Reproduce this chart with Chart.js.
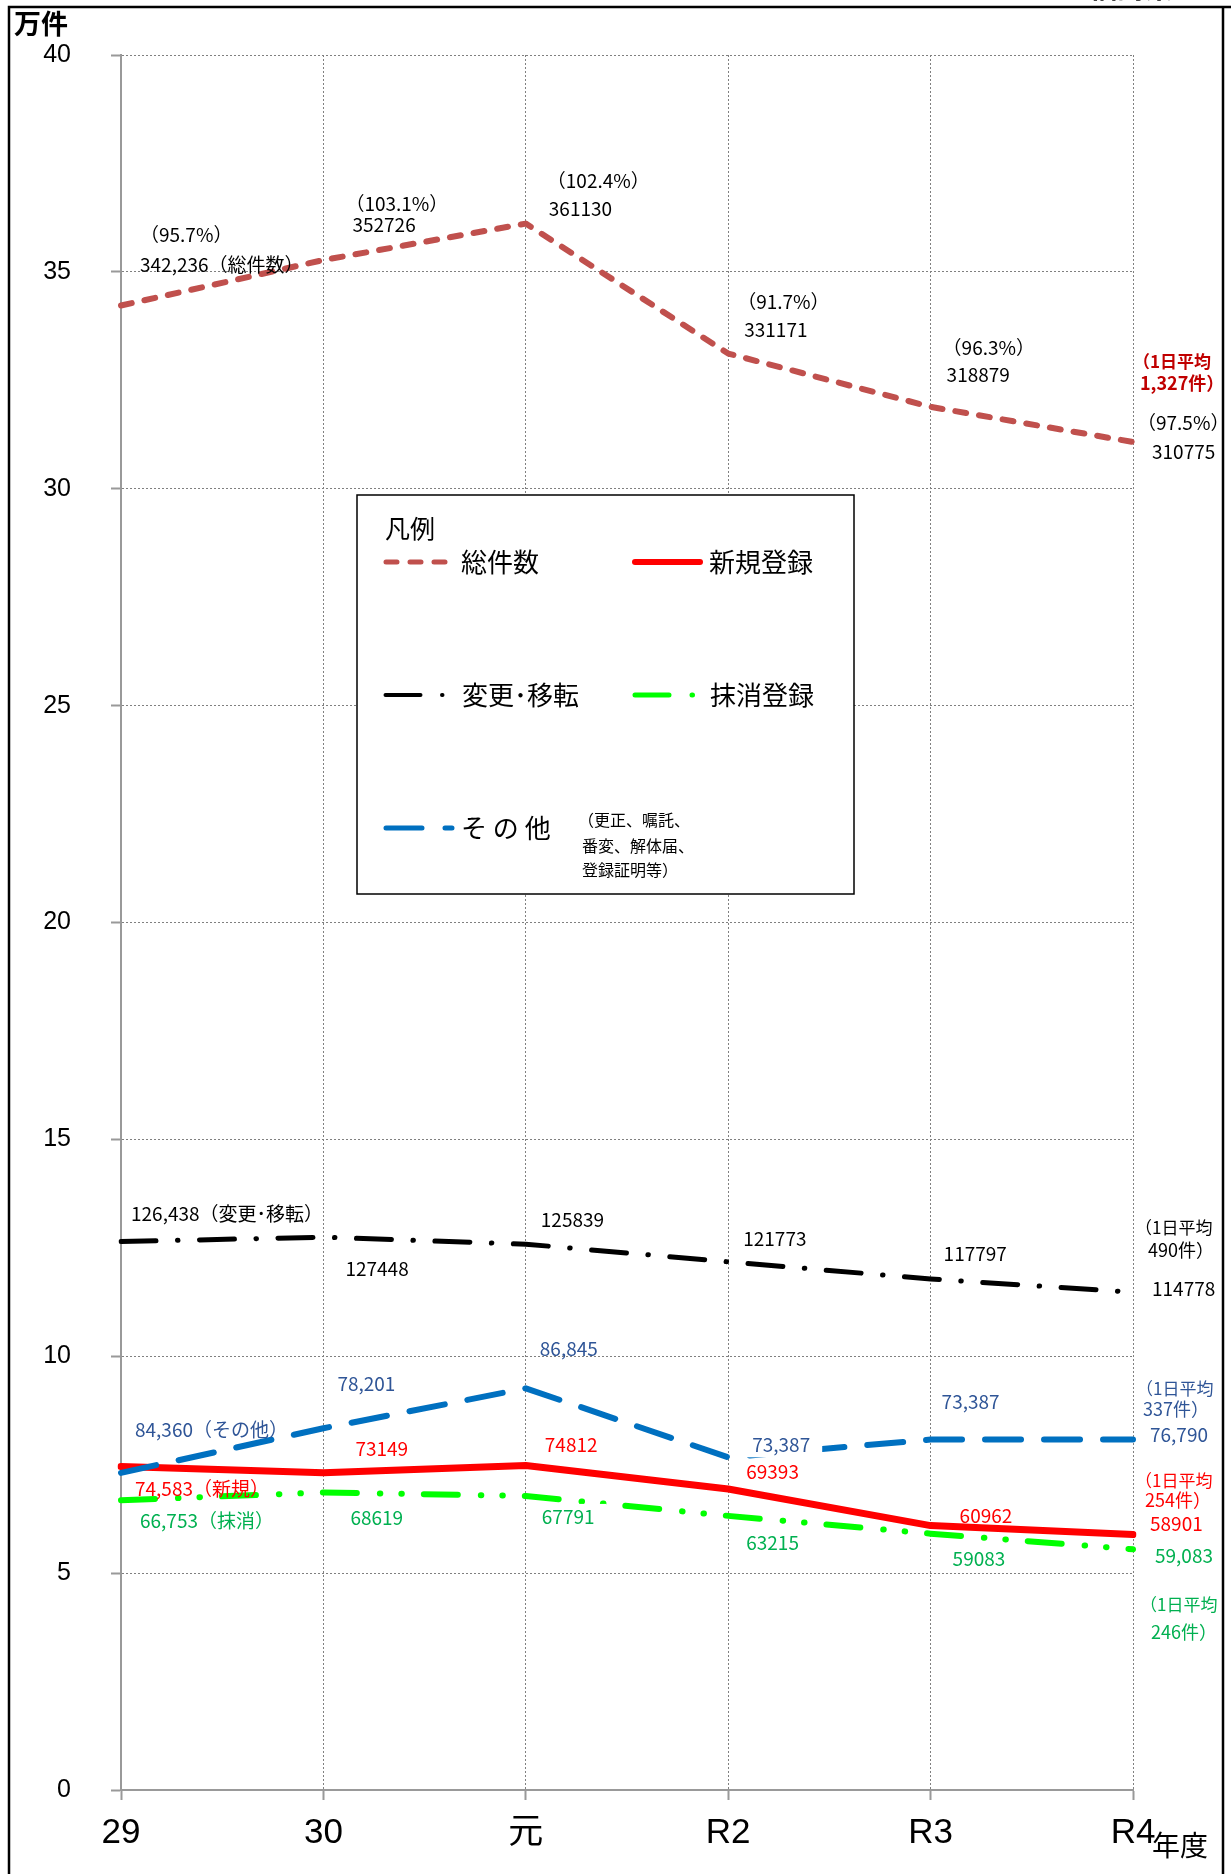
<!DOCTYPE html>
<html lang="ja">
<head>
<meta charset="utf-8">
<script src="https://cdn.jsdelivr.net/npm/chart.js@4.4.1/dist/chart.umd.min.js"></script>
<style>
  html, body { margin: 0; padding: 0; background: #fff; }
  #wrap { position: relative; width: 1231px; height: 1874px; }
</style>
</head>
<body>
<div id="wrap"><canvas id="chart"></canvas></div>
<script>
"use strict";

// 年度と目盛
const years = ["29", "30", "元", "R2", "R3", "R4"];
const yTicks = [0, 5, 10, 15, 20, 25, 30, 35, 40];

// 件数（万件）
const totalCount = [34.2236, 35.2726, 36.1130, 33.1171, 31.8879, 31.0775];
const changeMove = [12.6438, 12.7448, 12.5839, 12.1773, 11.7797, 11.4778];
const otherReg = [7.31, 8.34, 9.26, 7.67, 8.08, 8.08];
const newReg = [7.4583, 7.3149, 7.4812, 6.9393, 6.0962, 5.8901];
const cancelReg = [6.68, 6.86, 6.78, 6.32, 5.91, 5.55];

// ラベル文字
const totalRatio = ["（95.7%）", "（103.1%）", "（102.4%）", "（91.7%）", "（96.3%）", "（97.5%）"];
const totalText = ["342,236（総件数）", "352726", "361130", "331171", "318879", "310775"];
const changeText = ["126,438（変更･移転）", "127448", "125839", "121773", "117797", "114778"];
const otherText = ["84,360（その他）", "78,201", "86,845", "73,387", "73,387", "76,790"];
const newText = ["74,583（新規）", "73149", "74812", "69393", "60962", "58901"];
const cancelText = ["66,753（抹消）", "68619", "67791", "63215", "59083", "59,083"];
// 1日平均（件）: 総件数, 変更･移転, その他, 新規, 抹消
const dailyAvg = ["1,327", "490", "337", "254", "246"];

// ラベル位置（点からのずれ px）
const totalRatioPos = [[19, -71], [22, -56], [21, -43], [9, -52], [12, -59], [4, -19]];
const totalTextPos = [[19, -41], [29, -35], [23, -15], [16, -24], [16, -32], [19, 10]];
const changePos = [[10, -28], [22, 32], [15, -24], [15, -23], [13, -25], [19, -3]];
const otherPos = [[14, -43], [14, -44], [14, -40], [24, -13], [11, -38], [17, -5]];
const newPos = [[14, 22], [32, -24], [19, -21], [18, -17], [29, -10], [17, -11]];
const cancelPos = [[19, 21], [27, 25], [16, 21], [18, 27], [22, 25], [22, 7]];
const dailyPos = [[[0, -80], [7, -59]], [[2, -65], [15, -42]], [[3, -51], [10, -30]], [[2, -54], [12, -34]], [[7, 55], [18, 83]]];

const jp = '"Noto Sans CJK JP", sans-serif';
const num = '"Liberation Sans", "Noto Sans CJK JP", sans-serif';

const annotations = [];
function addLabels(ds, texts, pos, color, bgIdx) {
  texts.forEach((t, i) => {
    annotations.push({ ds, i, text: t, dx: pos[i][0], dy: pos[i][1], color, bg: bgIdx === i, size: 19 });
  });
}
addLabels(0, totalRatio, totalRatioPos, "#000");
addLabels(0, totalText, totalTextPos, "#000");
addLabels(1, changeText, changePos, "#000");
addLabels(2, otherText, otherPos, "#2F5597", 3);
addLabels(3, newText, newPos, "#FF0000");
addLabels(4, cancelText, cancelPos, "#00B050", 2);
const dailyColors = ["#C00000", "#000", "#2F5597", "#FF0000", "#00B050"];
dailyAvg.forEach((d, k) => {
  const p = dailyPos[k];
  annotations.push({ ds: k, i: 5, text: "（1日平均", dx: p[0][0], dy: p[0][1], color: dailyColors[k], bold: k === 0, size: 17 });
  annotations.push({ ds: k, i: 5, text: d + "件）", dx: p[1][0], dy: p[1][1], color: dailyColors[k], bold: k === 0, size: 18 });
});

function sampleLine(ctx, ds, x1, x2, y) {
  ctx.save();
  ctx.strokeStyle = ds.borderColor;
  ctx.lineWidth = ds.borderWidth - 1;
  ctx.lineCap = "round";
  ctx.setLineDash(ds.borderDash || []);
  ctx.beginPath();
  ctx.moveTo(x1, y);
  ctx.lineTo(x2, y);
  ctx.stroke();
  ctx.restore();
}

const extras = {
  id: "extras",
  beforeDraw(chart) {
    const ctx = chart.ctx;
    ctx.save();
    ctx.fillStyle = "#fff";
    ctx.fillRect(0, 0, chart.width, chart.height);
    ctx.restore();
  },
  afterDraw(chart) {
    const ctx = chart.ctx;
    const xs = chart.scales.x, ys = chart.scales.y;
    const sets = chart.data.datasets;
    ctx.save();

    // 枠
    ctx.strokeStyle = "#000";
    ctx.lineWidth = 2.5;
    ctx.beginPath();
    ctx.moveTo(9, 1874); ctx.lineTo(9, 7); ctx.lineTo(1231, 7);
    ctx.moveTo(1223, 7); ctx.lineTo(1223, 1874);
    ctx.stroke();

    ctx.fillStyle = "#000";
    ctx.textBaseline = "alphabetic";
    ctx.font = "bold 28px " + jp;
    ctx.fillText("福島県", 1089, -2);

    ctx.textBaseline = "middle";
    ctx.textAlign = "left";
    ctx.font = "bold 27px " + jp;
    ctx.fillText("万件", 14, 24);
    ctx.font = "28px " + jp;
    ctx.fillText("年度", 1152, 1845);

    // 凡例
    ctx.fillStyle = "#fff";
    ctx.fillRect(357, 495, 497, 399);
    ctx.strokeStyle = "#000";
    ctx.lineWidth = 1.5;
    ctx.strokeRect(357, 495, 497, 399);
    ctx.fillStyle = "#000";
    ctx.font = "25px " + jp;
    ctx.fillText("凡例", 385, 528);
    ctx.font = "26px " + jp;
    sampleLine(ctx, sets[0], 386, 445, 562);
    ctx.fillText("総件数", 461, 562);
    sampleLine(ctx, sets[3], 635, 700, 562);
    ctx.fillText("新規登録", 709, 562);
    sampleLine(ctx, sets[1], 385.5, 444, 695);
    ctx.fillText("変更･移転", 462, 695);
    sampleLine(ctx, sets[4], 635, 693, 695);
    ctx.fillText("抹消登録", 710, 695);
    sampleLine(ctx, sets[2], 386, 452, 828);
    ctx.fillText("そ の 他", 461, 828);
    ctx.font = "16px " + jp;
    ctx.fillText("（更正、嘱託、", 578, 820);
    ctx.fillText("番変、解体届、", 582, 846);
    ctx.fillText("登録証明等）", 582, 870);

    // データラベル
    for (const a of annotations) {
      const x = xs.getPixelForValue(a.i) + a.dx;
      const y = ys.getPixelForValue(sets[a.ds].data[a.i]) + a.dy;
      ctx.font = (a.bold ? "bold " : "") + a.size + "px " + jp;
      if (a.bg) {
        const w = ctx.measureText(a.text).width;
        ctx.fillStyle = "#fff";
        ctx.fillRect(x - 12, y - 13, w + 24, 26);
      }
      ctx.fillStyle = a.color;
      ctx.fillText(a.text, x, y);
    }
    ctx.restore();
  }
};

const lineBase = { fill: false, pointRadius: 0, tension: 0, borderCapStyle: "round", borderJoinStyle: "round" };

new Chart(document.getElementById("chart"), {
  type: "line",
  data: {
    labels: years,
    datasets: [
      { ...lineBase, label: "総件数", data: totalCount, borderColor: "#C0504D", borderWidth: 6, borderDash: [11, 13] },
      { ...lineBase, label: "変更･移転", data: changeMove, borderColor: "#000000", borderWidth: 5, borderDash: [35, 21.5, 0.5, 21.5] },
      { ...lineBase, label: "その他", data: otherReg, borderColor: "#0070C0", borderWidth: 6, borderDash: [36, 23] },
      { ...lineBase, label: "新規登録", data: newReg, borderColor: "#FF0000", borderWidth: 7 },
      { ...lineBase, label: "抹消登録", data: cancelReg, borderColor: "#00FF00", borderWidth: 6, borderDash: [34, 23, 0.5, 21, 0.5, 22] }
    ]
  },
  options: {
    responsive: true,
    maintainAspectRatio: false,
    animation: false,
    layout: { padding: { left: 0, top: 49, right: 98, bottom: 0 } },
    plugins: { legend: { display: false }, tooltip: { enabled: false } },
    scales: {
      x: {
        offset: false,
        grid: { color: "#808080", lineWidth: 1, tickLength: 10, tickColor: "#999", tickWidth: 2, tickBorderDash: [] },
        border: { color: "#999", width: 2, dash: [2, 2] },
        ticks: { color: "#000", font: { family: num, size: 35 }, padding: 12, maxRotation: 0, autoSkip: false },
        afterFit(s) { s.height = 84; }
      },
      y: {
        min: 0,
        max: 40,
        afterBuildTicks(s) { s.ticks = yTicks.map(v => ({ value: v })); },
        grid: { color: "#808080", lineWidth: 1, tickLength: 10, tickColor: "#999", tickWidth: 2, tickBorderDash: [] },
        border: { color: "#999", width: 2, dash: [2, 2] },
        ticks: { color: "#000", font: { family: num, size: 25 }, padding: 40 },
        afterFit(s) { s.width = 121; }
      }
    }
  },
  plugins: [extras]
});
</script>
</body>
</html>
